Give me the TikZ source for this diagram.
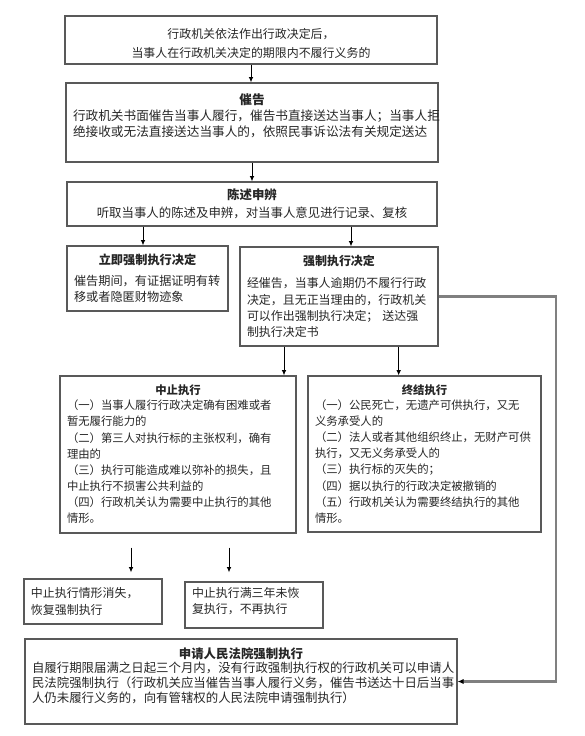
\documentclass[tikz,border=0pt]{standalone}
\usepackage{fontspec}
\usepackage{tikz}
\usetikzlibrary{arrows.meta}
\newfontfamily\cjk{Noto Sans CJK SC}
\newcommand{\ttl}[1]{\makebox[\hsize]{\bfseries #1}}
\newcommand{\cnsize}[2]{\cjk\fontsize{#1}{#2}\selectfont\lineskiplimit=-20pt}

\begin{document}
\begin{tikzpicture}[>={Latex[length=4.5pt,width=4pt]},
    box/.style={draw=black!65, line width=1.1pt, rectangle, align=left, inner xsep=0.21cm, inner ysep=0pt,
        text=black!85, font=\cnsize{10.2}{13.8}},
    arr/.style={->, line width=0.8pt},
    route/.style={draw=black!50, line width=2pt, -{Latex[length=5pt,width=4.5pt,color=black]}}]
    \useasboundingbox (0,0) rectangle (17.55,-22.08);

    \node[box, text width=10.74cm, minimum height=1.44cm, text height=14pt, align=center, font=\cnsize{10.2}{16}] (start) at (7.53,-1.20)
        {行政机关依法作出行政决定后，\\当事人在行政机关决定的期限内不履行义务的};
    \node[box, text width=10.74cm, minimum height=2.37cm, text depth=39.3pt, font=\cnsize{10.8}{13.6}] (urge) at (7.56,-3.675)
        {\ttl{催告}\\行政机关书面催告当事人履行，催告书直接送达当事人；当事人拒\\绝接收或无法直接送达当事人的，依照民事诉讼法有关规定送达};
    \node[box, text width=10.68cm, minimum height=1.32cm, align=center, font=\cnsize{10.6}{15}] (plead) at (7.56,-6.12)
        {{\bfseries 陈述申辨}\\听取当事人的陈述及申辨，对当事人意见进行记录、复核};
    \node[box, text width=4.41cm, minimum height=1.95cm, font=\cnsize{10.4}{13.8}] (immed) at (4.425,-8.355)
        {\ttl{立即强制执行决定}\\[4pt]催告期间，有证据证明有转\\移或者隐匿财物迹象};
    \node[box, text width=5.52cm, minimum height=2.97cm] (decide) at (10.17,-8.895)
        {\ttl{强制执行决定}\\[5pt]经催告，当事人逾期仍不履行行政\\决定，且无正当理由的，行政机关\\可以作出强制执行决定； 送达强\\制执行决定书};

    \node[box, text width=6.66cm, minimum height=4.71cm, font=\cnsize{9.7}{13.8}] (suspend) at (5.34,-13.635)
        {\ttl{中止执行}\\[-1pt]（一）当事人履行行政决定确有困难或者\\暂无履行能力的\\（二）第三人对执行标的主张权利，确有\\理由的\\（三）执行可能造成难以弥补的损失，且\\中止执行不损害公共利益的\\（四）行政机关认为需要中止执行的其他\\情形。};
    \node[box, text width=6.57cm, minimum height=4.68cm, font=\cnsize{9.7}{13.8}] (terminate) at (12.735,-13.62)
        {\ttl{终结执行}\\[-1pt]（一）公民死亡，无遗产可供执行，又无\\义务承受人的\\（二）法人或者其他组织终止，无财产可供\\执行，又无义务承受人的\\（三）执行标的灭失的；\\（四）据以执行的行政决定被撤销的\\（五）行政机关认为需要终结执行的其他\\情形。};

    \node[box, text width=3.72cm, minimum height=1.35cm] (resume) at (2.79,-18.045)
        {中止执行情形消失，\\恢复强制执行};
    \node[box, text width=3.72cm, minimum height=1.38cm, text depth=21.6pt] (cease) at (7.62,-18.15)
        {中止执行满三年未恢\\复执行，不再执行};
    \node[box, text width=12.54cm, minimum height=2.55cm, text depth=49pt, font=\cnsize{10.6}{12.6}] (court) at (7.23,-20.445)
        {\ttl{申请人民法院强制执行}\\自履行期限届满之日起三个月内，没有行政强制执行权的行政机关可以申请人\\民法院强制执行（行政机关应当催告当事人履行义务，催告书送达十日后当事\\人仍未履行义务的，向有管辖权的人民法院申请强制执行）};

    \draw[arr] (start.south) -- (start.south |- urge.north);
    \draw[arr] (urge.south) -- (urge.south |- plead.north);
    \draw[arr] (plead.south -| 4.29,0) -- (immed.north -| 4.29,0);
    \draw[arr] (plead.south -| 10.53,0) -- (decide.north -| 10.53,0);
    \draw[arr] (decide.south -| 8.52,0) -- (suspend.north -| 8.52,0);
    \draw[arr] (decide.south -| 11.96,0) -- (terminate.north -| 11.96,0);
    \draw[arr, shorten <=0.42cm, shorten >=0.18cm] (suspend.south -| 3.93,0) -- (resume.north -| 3.93,0);
    \draw[arr, shorten <=0.42cm, shorten >=0.27cm] (suspend.south -| 6.87,0) -- (cease.north -| 6.87,0);
    \draw[route] (decide.east) -- (16.68,0 |- decide.east) -- (16.68,0 |- court.east) -- (court.east);
\end{tikzpicture}
\end{document}
